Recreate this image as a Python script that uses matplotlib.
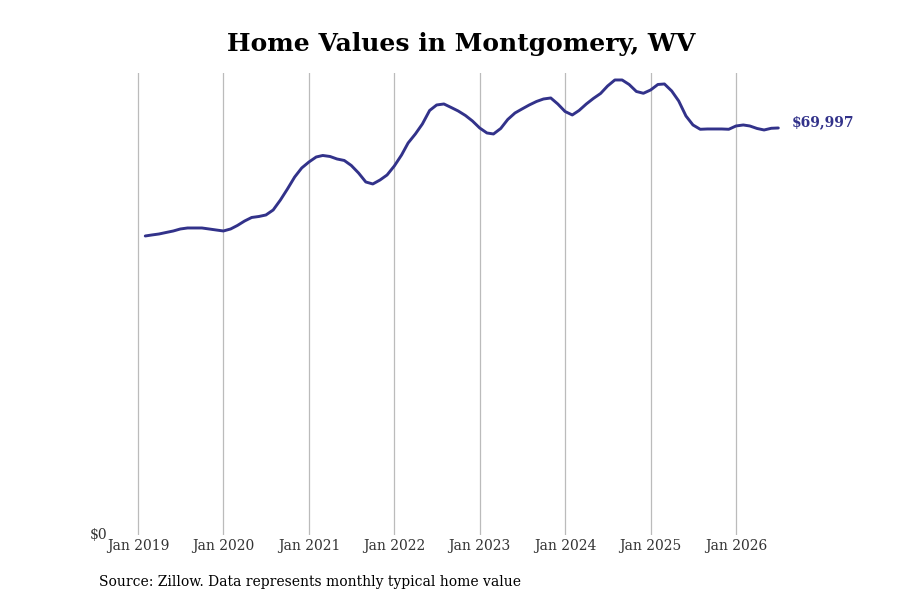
import matplotlib
matplotlib.use("Agg")
import matplotlib.pyplot as plt
import matplotlib.dates as mdates
import pandas as pd
import numpy as np

plt.rcParams['font.family'] = ['DejaVu Serif']

dates = pd.date_range("2019-02-01", "2026-07-01", freq="MS")
values = [
    51422, 51594, 51766, 52024, 52282, 52626, 52798, 52798, 52798, 52626, 52454,
    52282, 52626, 53228, 54002, 54604, 54776, 55034, 55894, 57613, 59505, 61569,
    63117, 64149, 65008, 65266, 65094, 64664, 64407, 63547, 62257, 60709, 60365,
    61053, 61913, 63461, 65352, 67416, 68964, 70684, 73006, 73951, 74123, 73522,
    72920, 72146, 71200, 69996, 69136, 68964, 69910, 71458, 72576, 73263, 73951,
    74553, 74983, 75155, 74123, 72833, 72232, 73006, 74123, 75069, 75929, 77219,
    78251, 78251, 77477, 76273, 75963, 76531, 77477, 77563, 76359, 74639, 72060,
    70512, 69772, 69824, 69824, 69824, 69772, 70340, 70512, 70340, 69910, 69652,
    69944, 69997,
]
tick_years = list(range(2019, 2027))
tick_labels = [f"Jan {y}" for y in tick_years]
title = "Home Values in Montgomery, WV"
source = "Source: Zillow. Data represents monthly typical home value"
line_color = "#32328a"

fig = plt.figure(figsize=(9, 6), dpi=100)
ax = fig.add_axes([112/900, 1 - 535/600, (810-112)/900, (535-73)/600])

ax.plot(dates, values, color=line_color, linewidth=2.1, solid_capstyle='round')

ticks = [pd.Timestamp(f"{y}-01-01") for y in tick_years]
ax.set_xticks(ticks)
ax.set_xticklabels(tick_labels, fontsize=10, color="#333333")
t0 = mdates.date2num(pd.Timestamp("2019-01-01"))
t1 = mdates.date2num(pd.Timestamp("2026-01-01"))
ppx = (t1 - t0) / (736 - 138)
ax.set_xlim(t0 - 26 * ppx, t1 + 74 * ppx)
ax.set_ylim(0, 79450)
ax.set_yticks([0])
ax.set_yticklabels(["$0"], fontsize=10, color="#333333")
ax.tick_params(axis='both', length=0)
ax.tick_params(axis='x', pad=3)
ax.tick_params(axis='y', pad=3)
for lbl in ax.get_yticklabels():
    lbl.set_verticalalignment('center')

ax.grid(axis='x', color="#bbbbbb", linewidth=0.9)
ax.grid(axis='y', visible=False)
for s in ax.spines.values():
    s.set_visible(False)

ax.annotate(f"${values[-1]:,}", xy=(dates[-1], values[-1]), xytext=(10, 4),
            textcoords='offset points', color=line_color, fontsize=10,
            fontweight='bold', va='center', ha='left', annotation_clip=False)

fig.text(461/900, 1 - 43.5/600, title, ha='center', va='center',
         fontsize=18, fontweight='bold', color='black')
fig.text(99/900, 1 - 582/600, source, ha='left', va='center', fontsize=10,
         color='black')

fig.savefig("out.png", dpi=100)
